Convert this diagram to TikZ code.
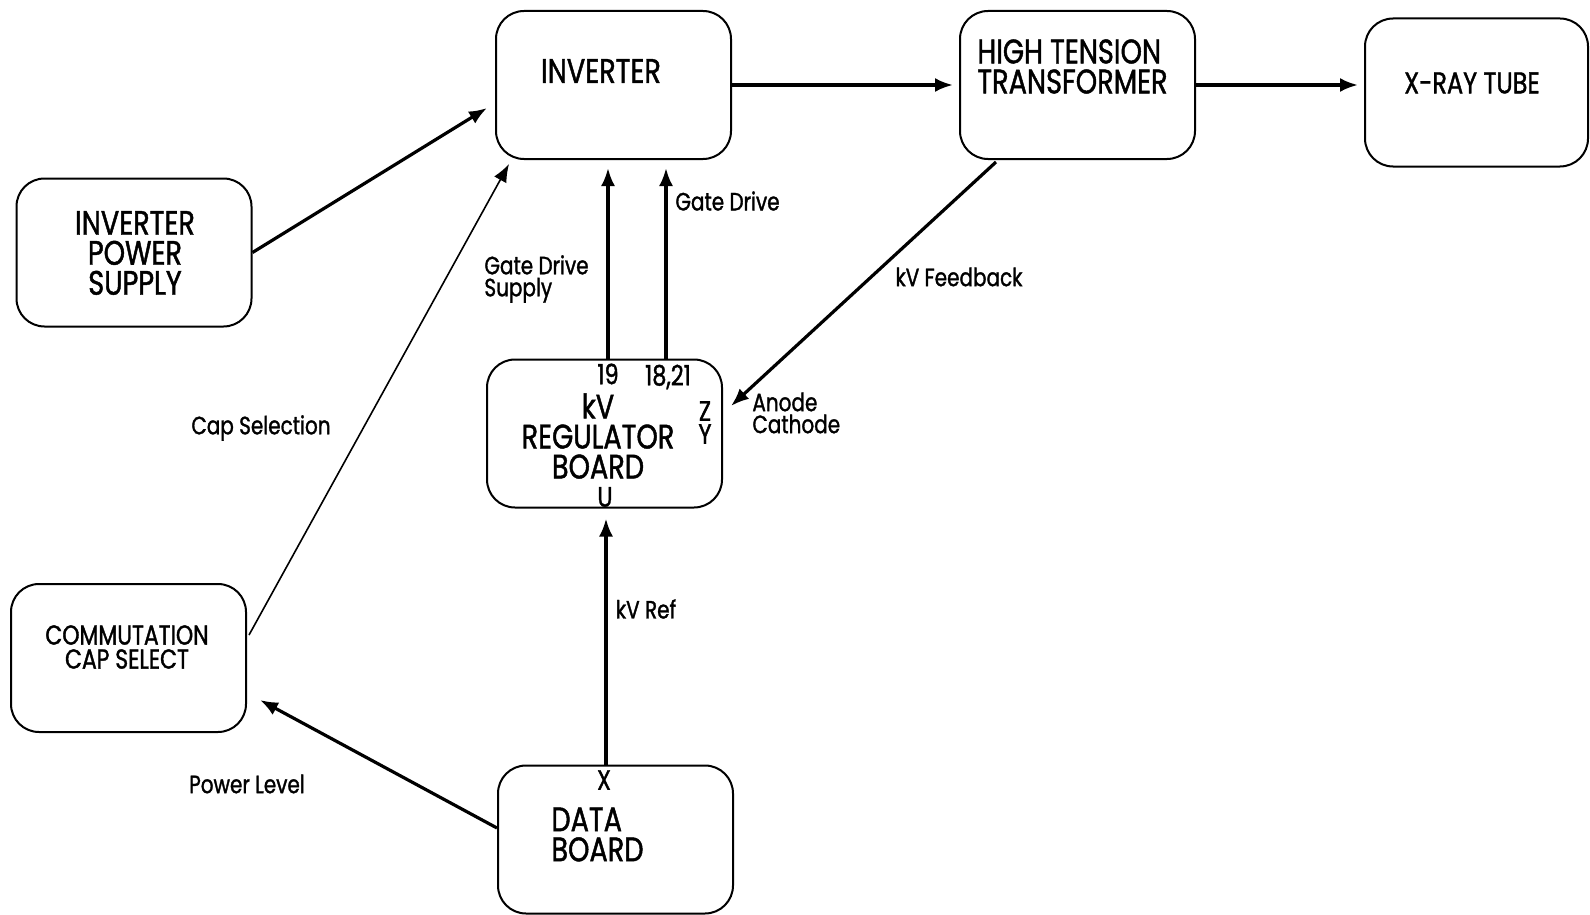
\documentclass[tikz,border=0pt]{standalone}
\usepackage{fontspec}
\setmainfont{Poppins}[FakeStretch=0.8, FakeBold=1.3]
\usetikzlibrary{arrows.meta,calc}
\begin{document}
\begin{tikzpicture}[x=0.5pt,y=-0.5pt,
  box/.style={draw, line width=1pt, rounded corners=14pt, inner sep=0pt,
              minimum width=117.5pt, minimum height=74pt},
  title/.style={font=\fontsize{17}{15}\selectfont, align=center, inner sep=0pt},
  lbl/.style={font=\fontsize{12.5}{11}\selectfont, inner sep=0pt, align=left},
  pin/.style={font=\fontsize{14}{11.5}\selectfont, inner sep=0pt, align=center},
  flow/.style={line width=1.6pt, -{Latex[length=9pt,width=7pt]}},
  thinflow/.style={line width=0.8pt, -{Latex[length=9pt,width=7pt]}}
]
\useasboundingbox (0,0) rectangle (1590,915);

% blocks
\node[box] (inv)  at (613.5,85)   {};
\node[box] (ht)   at (1077.5,85)  {};
\node[box, minimum width=111.5pt] (xray) at (1476.5,92.5) {};
\node[box] (ips)  at (134,252.5)  {};
\node[box] (kvr)  at (604.5,433.5) {};
\node[box] (ccs)  at (128.5,658)  {};
\node[box] (data) at (615.5,839.5) {};

% block titles
\node[title] (tinv)  at (601,71)    {INVERTER};
\node[title, align=left, anchor=west] (tht) at (977,66.5) {HIGH TENSION\\TRANSFORMER};
\node[title, font=\fontsize{15}{15}\selectfont] (txray) at (1472,83) {X-RAY TUBE};
\node[title] (tips)  at (135,253)   {INVERTER\\POWER\\SUPPLY};
\node[title] (tkvr)  at (598,436)   {kV\\REGULATOR\\BOARD};
\node[title, font=\fontsize{13.7}{12}\selectfont] (tccs) at (127,647) {COMMUTATION\\CAP SELECT};
\node[title, align=left, anchor=west] (tdata) at (551,834.5) {DATA\\BOARD};

% pin numbers
\node[pin] (p19)   at (608,374) {19};
\node[pin] (p1821) at (668,377) {18,21};
\node[pin] (pzy)   at (705,422.5) {Z\\Y};
\node[pin] (pu)    at (605,497) {U};
\node[pin] (px)    at (604,780) {X};

% connectors
\draw[flow] (inv.east) -- ($(ht.west)+(-6,0)$);
\draw[flow] (ht.east) -- ($(ht.east -| xray.west)+(-6,0)$);
\draw[flow] (ips.east) -- ($(inv.west)+(-8,23)$);
\draw[thinflow] ($(ccs.east)+(2,-23)$) -- ($(inv.south west)+(14,4)$);
\draw[flow] ($(kvr.north)+(3.5,0)$) -- ($(inv.south)+(-5.5,8)$);
\draw[flow] ($(kvr.north)+(61.5,0)$) -- ($(inv.south)+(52.5,8)$);
\draw[flow] ($(ht.south west)+(37,2)$) -- ($(kvr.east)+(8,-27.5)$);
\draw[flow] ($(data.north)+(-9.5,0)$) -- ($(kvr.south)+(1.5,10)$);
\draw[flow] ($(data.west)+(0,-11.5)$) -- ($(ccs.south east)+(13,-33)$);

% signal names
\node[lbl, anchor=west] (lgd)  at (675,201) {Gate Drive};
\node[lbl, anchor=west] (lgds) at (484,279) {Gate Drive\\Supply};
\node[lbl] (lfb)  at (959,277) {kV Feedback};
\node[lbl, anchor=west] (lac)  at (752,413) {Anode\\Cathode};
\node[lbl] (lcap) at (261,428) {Cap Selection};
\node[lbl] (lref) at (646,609) {kV Ref};
\node[lbl] (lpwr) at (247,784) {Power Level};
\end{tikzpicture}
\end{document}
